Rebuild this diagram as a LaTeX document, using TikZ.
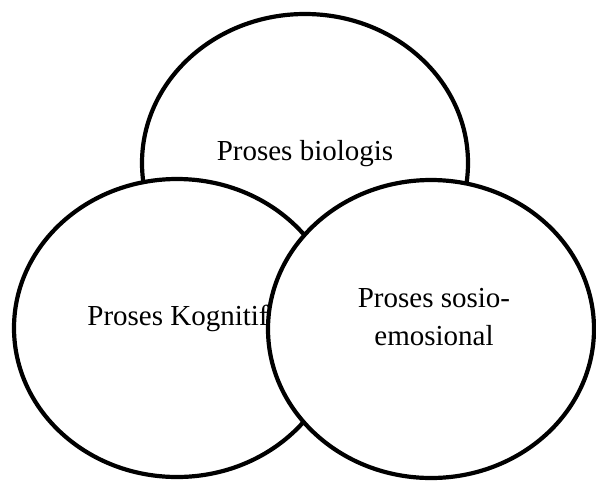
\documentclass[tikz,border=0pt]{standalone}
\usepackage{fontspec}
\setmainfont{Liberation Serif}
\usetikzlibrary{shapes.geometric}
\tikzset{
  blob/.style={ellipse, draw=black, fill=white, line width=4.2pt,
    minimum width=326pt, minimum height=298pt, inner sep=0pt},
  lbl/.style={font=\fontsize{29}{38}\selectfont, text=black, inner sep=0pt, anchor=base, align=center}
}
\begin{document}
\begin{tikzpicture}[x=1pt, y=-1pt]
\useasboundingbox[fill=white] (0,0) rectangle (596,482);
\node[blob] (bio) at (305,163) {};
\node[lbl] (biot) at (305,160) {Proses biologis};
\node[blob] (kog) at (177,328) {};
\node[lbl] (kogt) at (178,325) {Proses Kognitif};
\node[blob] (sos) at (431,329) {};
\node[lbl] (sost) at (434,345) {Proses sosio-\\emosional};
\end{tikzpicture}
\end{document}
